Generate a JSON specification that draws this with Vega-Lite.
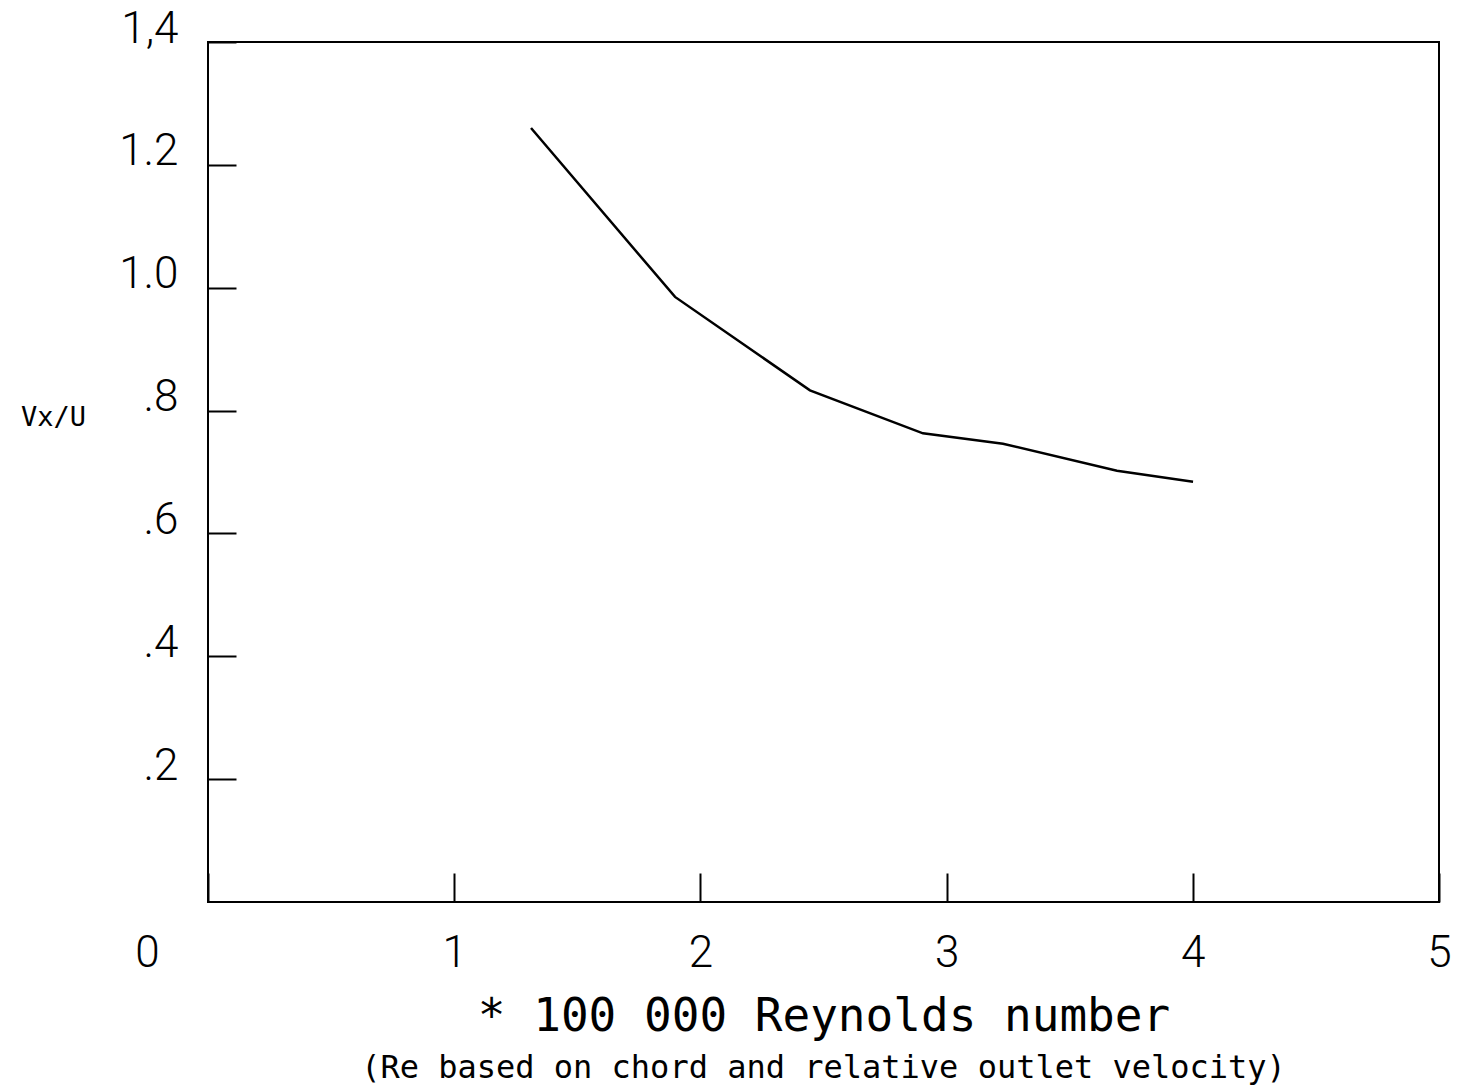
{
  "$schema": "https://vega.github.io/schema/vega-lite/v6.json",
  "autosize": "none",
  "width": 1231,
  "height": 860,
  "padding": {"left": 208, "top": 42, "right": 20, "bottom": 188},
  "background": "white",
  "config": {
    "view": {"stroke": "black", "strokeWidth": 2},
    "axis": {"domain": false, "grid": false}
  },
  "title": {
    "text": "(Re based on chord and relative outlet velocity)",
    "orient": "bottom",
    "anchor": "middle",
    "font": "DejaVu Sans Mono",
    "fontSize": 32,
    "fontWeight": "normal",
    "color": "black",
    "offset": 14
  },
  "data": {
    "values": [
      {"re": 1.312, "v": 1.260},
      {"re": 1.897, "v": 0.985},
      {"re": 2.445, "v": 0.833},
      {"re": 2.904, "v": 0.763},
      {"re": 3.229, "v": 0.746},
      {"re": 3.692, "v": 0.702},
      {"re": 4.001, "v": 0.684}
    ]
  },
  "mark": {"type": "line", "color": "black", "strokeWidth": 2.5},
  "encoding": {
    "x": {
      "field": "re",
      "type": "quantitative",
      "scale": {"domain": [0, 5], "nice": false, "zero": false},
      "axis": {
        "values": [0, 1, 2, 3, 4, 5],
        "format": "d",
        "title": "* 100 000 Reynolds number",
        "titleFont": "DejaVu Sans Mono",
        "titleFontSize": 46,
        "titleFontWeight": "normal",
        "titleColor": "black",
        "titleBaseline": "alphabetic",
        "titleY": 128,
        "labelFont": "Roboto",
        "labelFontWeight": 300,
        "labelFontSize": 44,
        "labelColor": "black",
        "labelBaseline": "alphabetic",
        "labelFlush": false,
        "labelOverlap": false,
        "labelBound": false,
        "labelPadding": 93,
        "labelOffset": {"condition": {"test": "datum.value == 0", "value": -61}, "value": 0},
        "tickColor": "black",
        "tickWidth": 2,
        "tickSize": -29
      }
    },
    "y": {
      "field": "v",
      "type": "quantitative",
      "scale": {"domain": [0, 1.4], "nice": false, "zero": false},
      "axis": {
        "values": [0.2, 0.4, 0.6, 0.8, 1.0, 1.2, 1.4],
        "labelExpr": "datum.value >= 1.35 ? '1,4' : datum.value >= 0.99 ? format(datum.value, '.1f') : '.' + format(datum.value * 10, '.0f')",
        "title": "Vx/U",
        "titleFont": "DejaVu Sans Mono",
        "titleFontSize": 27,
        "titleFontWeight": "normal",
        "titleColor": "black",
        "titleAngle": 0,
        "titleAlign": "center",
        "titleBaseline": "alphabetic",
        "titleX": -155,
        "titleY": 383,
        "labelFont": "Roboto",
        "labelFontWeight": 300,
        "labelFontSize": 44,
        "labelColor": "black",
        "labelAlign": "right",
        "labelBaseline": "alphabetic",
        "labelFlush": false,
        "labelOverlap": false,
        "labelBound": false,
        "labelPadding": 58,
        "tickColor": "black",
        "tickWidth": 2,
        "tickSize": -28
      }
    }
  }
}
